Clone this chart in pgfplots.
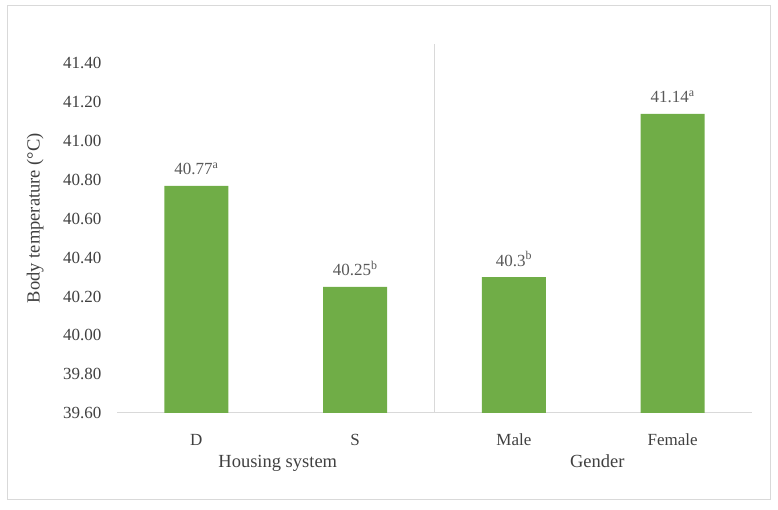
\documentclass[border=0pt]{standalone}
\usepackage{pgfplots}
\pgfplotsset{compat=1.18}
\usepackage{fontspec}
\setmainfont{Liberation Serif}
\definecolor{barg}{HTML}{70AD47}
\definecolor{framec}{HTML}{D9D9D9}
\definecolor{txt}{HTML}{404040}
\definecolor{lbl}{HTML}{595959}
\begin{document}
\begin{tikzpicture}[x=1pt,y=1pt]
\path[use as bounding box] (0,0) rectangle (778,510);
\draw[framec, line width=1pt] (7,10) rectangle (770,504);
\begin{axis}[
  at={(117pt,97pt)}, anchor=south west,
  scale only axis, width=635pt, height=369pt,
  xmin=-0.5, xmax=3.5, ymin=39.6, ymax=41.5,
  axis x line*=bottom, axis y line*=left,
  x axis line style={draw=framec, line width=1pt},
  y axis line style={draw=none},
  major tick length=0pt,
  xtick={0,1,2,3}, xticklabels={D,S,Male,Female},
  ytick={39.6,39.8,40.0,40.2,40.4,40.6,40.8,41.0,41.2,41.4},
  /pgf/number format/fixed,
  /pgf/number format/fixed zerofill,
  /pgf/number format/precision=2,
  /pgf/number format/assume math mode=true,
  tick label style={font=\fontsize{17}{20}\selectfont, text=txt},
  yticklabel style={anchor=east, xshift=-12pt},
  xticklabel style={anchor=center, yshift=-27pt},
  ylabel={Body temperature (°C)},
  ylabel style={at={(axis description cs:-0.129,0.528)}, anchor=center, font=\fontsize{18.5}{22}\selectfont, text=txt},
]
\addplot[ybar, bar width=64pt, fill=barg, draw=none,
  nodes near coords, point meta=explicit symbolic,
  nodes near coords style={anchor=base, yshift=11pt, font=\fontsize{17}{20}\selectfont, text=lbl}]
  coordinates {
    (0,40.77) [40.77\textsuperscript{a}]
    (1,40.25) [40.25\textsuperscript{b}]
    (2,40.30) [40.3\textsuperscript{b}]
    (3,41.14) [41.14\textsuperscript{a}]
  };
\addplot[framec, line width=1pt] coordinates {(1.5,39.6) (1.5,41.5)};
\coordinate (hs) at (axis cs:0.5,39.6);
\coordinate (gd) at (axis cs:2.5,39.6);
\end{axis}
\node[anchor=base, font=\fontsize{18.5}{22}\selectfont, text=txt] at ([xshift=2pt,yshift=-55pt]hs) {Housing system};
\node[anchor=base, font=\fontsize{18.5}{22}\selectfont, text=txt] at ([xshift=4pt,yshift=-55pt]gd) {Gender};
\end{tikzpicture}
\end{document}
